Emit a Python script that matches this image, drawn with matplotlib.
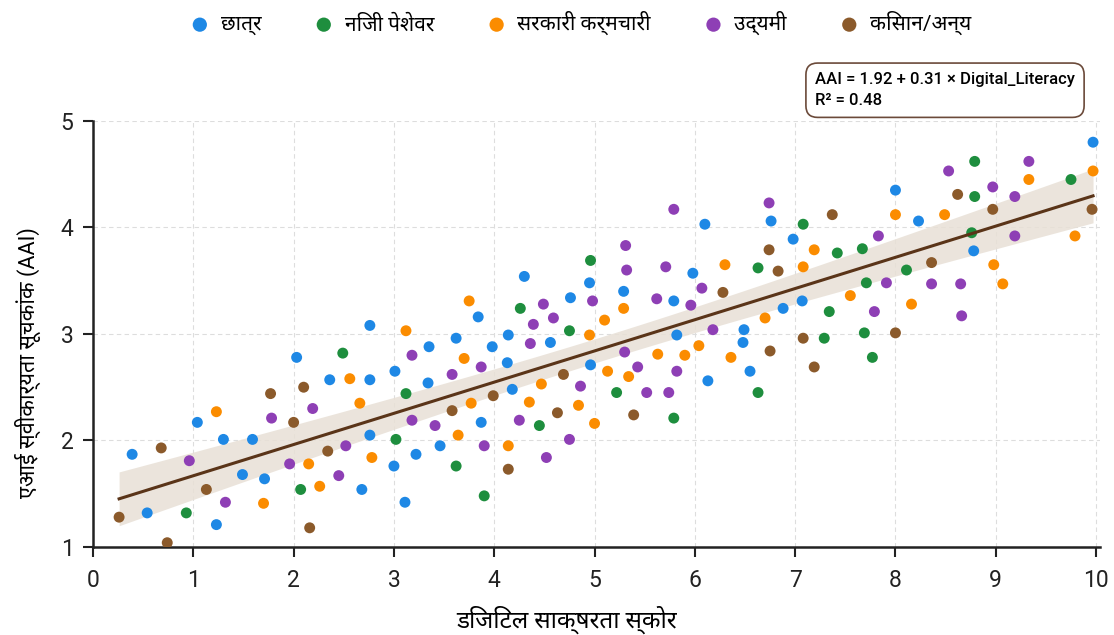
import numpy as np
import matplotlib.pyplot as plt
from matplotlib import font_manager

# candidate fonts: Devanagari needs a family that has the glyphs
avail = {f.name for f in font_manager.fontManager.ttflist}
families = [f for f in ['Roboto', 'Noto Sans Devanagari', 'Lohit Devanagari', 'Mangal',
                        'Noto Sans', 'DejaVu Sans'] if f in avail]
plt.rcParams['font.family'] = families

groups = ['छात्र', 'निजी पेशेवर', 'सरकारी कर्मचारी', 'उद्यमी', 'किसान/अन्य']
colors = ['#1E88E5', '#1E8E3E', '#FB8C00', '#8E3FB5', '#8B5A2B']

student_x = [0.39, 0.54, 1.04, 1.23, 1.30, 1.59, 1.49, 1.71, 2.03, 2.36, 2.76, 2.76, 2.76,
             2.68, 3.01, 3.00, 3.11, 3.22, 3.35, 3.34, 3.46, 3.62, 3.84, 3.87, 3.98, 4.14,
             4.13, 4.18, 4.30, 4.56, 4.76, 4.95, 4.96, 5.29, 5.79, 5.82, 5.98, 6.10, 6.13,
             6.49, 6.48, 6.55, 6.76, 6.88, 6.98, 7.07, 8.00, 8.23, 8.78, 9.97]
student_y = [1.87, 1.32, 2.17, 1.21, 2.01, 2.01, 1.68, 1.64, 2.78, 2.57, 3.08, 2.57, 2.05,
             1.54, 2.65, 1.76, 1.42, 1.87, 2.88, 2.54, 1.95, 2.96, 3.16, 2.17, 2.88, 2.99,
             2.73, 2.48, 3.54, 2.92, 3.34, 3.48, 2.71, 3.40, 3.31, 2.99, 3.57, 4.03, 2.56,
             3.04, 2.92, 2.65, 4.06, 3.24, 3.89, 3.31, 4.35, 4.06, 3.78, 4.80]

private_x = [0.93, 2.07, 2.49, 3.12, 3.02, 3.62, 3.90, 4.26, 4.45, 4.75, 4.96, 5.22, 5.79,
             6.63, 6.63, 7.08, 7.29, 7.34, 7.42, 7.67, 7.71, 7.69, 7.77, 8.11, 8.79, 8.79,
             8.76, 9.75]
private_y = [1.32, 1.54, 2.82, 2.44, 2.01, 1.76, 1.48, 3.24, 2.14, 3.03, 3.69, 2.45, 2.21,
             3.62, 2.45, 4.03, 2.96, 3.21, 3.76, 3.80, 3.48, 3.01, 2.78, 3.60, 4.62, 4.29,
             3.95, 4.45]

govt_x = [1.23, 1.70, 2.15, 2.26, 2.56, 2.66, 2.78, 3.12, 3.64, 3.70, 3.75, 3.77, 4.14,
          4.35, 4.47, 4.84, 4.95, 5.00, 5.10, 5.13, 5.29, 5.34, 5.63, 5.90, 6.04, 6.30,
          6.36, 6.70, 7.19, 7.08, 7.55, 8.00, 8.16, 8.49, 8.98, 9.07, 9.33, 9.79, 9.97]
govt_y = [2.27, 1.41, 1.78, 1.57, 2.58, 2.35, 1.84, 3.03, 2.05, 2.77, 3.31, 2.35, 1.95,
          2.36, 2.53, 2.33, 2.99, 2.16, 3.13, 2.65, 3.24, 2.60, 2.81, 2.80, 2.89, 3.65,
          2.78, 3.15, 3.79, 3.63, 3.36, 4.12, 3.28, 4.12, 3.65, 3.47, 4.45, 3.92, 4.53]

entre_x = [0.96, 1.32, 1.78, 1.96, 2.19, 2.52, 2.45, 3.18, 3.18, 3.41, 3.58, 3.87, 3.90,
           4.25, 4.49, 4.39, 4.59, 4.36, 4.52, 4.75, 4.86, 4.98, 5.31, 5.32, 5.30, 5.43,
           5.62, 5.52, 5.71, 5.74, 5.79, 5.82, 5.96, 6.07, 6.18, 6.74, 7.83, 7.91, 7.79,
           8.36, 8.53, 8.65, 8.66, 8.97, 9.19, 9.19, 9.33]
entre_y = [1.81, 1.42, 2.21, 1.78, 2.30, 1.95, 1.67, 2.80, 2.19, 2.14, 2.62, 2.69, 1.95,
           2.19, 3.28, 3.09, 3.15, 2.91, 1.84, 2.01, 2.51, 3.31, 3.83, 3.60, 2.83, 2.69,
           3.33, 2.45, 3.63, 2.45, 4.17, 2.65, 3.27, 3.43, 3.04, 4.23, 3.92, 3.48, 3.21,
           3.47, 4.53, 3.47, 3.17, 4.38, 4.29, 3.92, 4.62]

farmer_x = [0.26, 0.68, 0.74, 1.13, 1.77, 2.00, 2.10, 2.16, 2.34, 3.58, 3.99, 4.14, 4.69,
            4.63, 5.39, 6.28, 6.75, 6.74, 6.83, 7.08, 7.19, 7.37, 8.00, 8.36, 8.62, 8.97,
            9.96]
farmer_y = [1.28, 1.93, 1.04, 1.54, 2.44, 2.17, 2.50, 1.18, 1.90, 2.28, 2.42, 1.73, 2.62,
            2.26, 2.24, 3.39, 2.84, 3.79, 3.59, 2.96, 2.69, 4.12, 3.01, 3.67, 4.31, 4.17,
            4.17]

xs = [student_x, private_x, govt_x, entre_x, farmer_x]
ys = [student_y, private_y, govt_y, entre_y, farmer_y]

fig = plt.figure(figsize=(11.14, 6.35), dpi=100)
ax = fig.add_axes([0.0835, 0.1386, 0.904, 0.671])

for gx, gy, name, c in zip(xs, ys, groups, colors):
    ax.scatter(gx, gy, s=62, color=c, edgecolors='none', label=name, zorder=3)

# regression line + confidence band
all_x = np.concatenate([np.array(v) for v in xs])
all_y = np.concatenate([np.array(v) for v in ys])
b, a = np.polyfit(all_x, all_y, 1)
n = len(all_x)
resid = all_y - (a + b * all_x)
s = np.sqrt(np.sum(resid ** 2) / (n - 2))
xx = np.linspace(all_x.min(), all_x.max(), 200)
se = s * np.sqrt(1 / n + (xx - all_x.mean()) ** 2 / np.sum((all_x - all_x.mean()) ** 2))
yy = a + b * xx
ax.fill_between(xx, yy - 3.3 * se, yy + 3.3 * se, color='#e8e0d6', alpha=0.85,
                lw=0, zorder=2)
ax.plot(xx, yy, color='#5a3418', lw=2.2, zorder=4)

ax.set_xlim(0, 10.04)
ax.set_ylim(1, 5)
ax.set_xticks(range(0, 11))
ax.set_yticks([1, 2, 3, 4, 5])
ax.grid(True, linestyle=(0, (4, 3)), color='#dddddd', lw=0.8, zorder=0)
for side in ['top', 'right']:
    ax.spines[side].set_visible(False)
for side in ['left', 'bottom']:
    ax.spines[side].set_linewidth(1.8)
    ax.spines[side].set_color('#222222')
ax.tick_params(axis='both', labelsize=16.5, length=7, width=1.5, colors='#222222')
ax.tick_params(axis='x', pad=9)
ax.tick_params(axis='y', pad=7)

ax.set_xlabel('डिजिटल साक्षरता स्कोर', fontsize=17.5)
ax.set_ylabel('एआई स्वीकार्यता सूचकांक (AAI)', fontsize=15.5)
ax.xaxis.set_label_coords(0.47, -0.171)
ax.yaxis.set_label_coords(-0.0645, 0.434)
ax.xaxis.label.set_va('center')
ax.yaxis.label.set_va('center')

ax.text(0.717, 1.072, 'AAI = 1.92 + 0.31 × Digital_Literacy\nR² = 0.48',
        transform=ax.transAxes, fontsize=12, fontweight='medium', va='center', ha='left',
        linespacing=1.5,
        bbox=dict(boxstyle='round,pad=0.55,rounding_size=0.7', fc='white', ec='#6b4a3a',
                  lw=1.2))

fig.legend(loc='upper center', bbox_to_anchor=(0.521, 1.012), ncol=5, frameon=False,
           fontsize=15, markerscale=1.3, handlelength=1.0, handletextpad=0.5,
           columnspacing=2.5)

fig.savefig('out.png', dpi=100, facecolor='white')
